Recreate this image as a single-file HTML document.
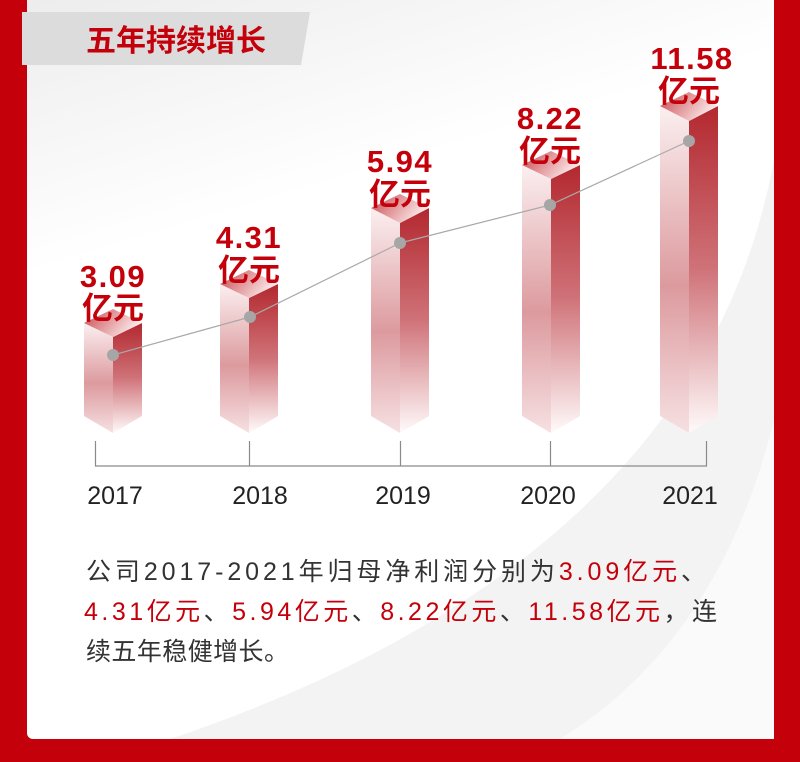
<!DOCTYPE html>
<html><head><meta charset="utf-8"><style>
html,body{margin:0;padding:0;width:800px;height:762px;overflow:hidden;background:#c4000b}
svg{display:block}
text{font-family:"Liberation Sans","Noto Sans CJK SC",sans-serif}
</style></head><body>
<svg width="800" height="762" viewBox="0 0 800 762" xmlns="http://www.w3.org/2000/svg">
<defs>
<linearGradient id="bg" x1="0" y1="0" x2="0.3" y2="1">
<stop offset="0" stop-color="#ececec"/><stop offset="0.35" stop-color="#ffffff"/><stop offset="1" stop-color="#ffffff"/>
</linearGradient>
<linearGradient id="lf" x1="0" y1="0" x2="0" y2="1">
<stop offset="0" stop-color="#fbeff0"/><stop offset="0.55" stop-color="#dc9a9e"/><stop offset="1" stop-color="#f6e0e2"/>
</linearGradient>
<linearGradient id="rf" x1="0" y1="0" x2="0" y2="1">
<stop offset="0" stop-color="#b3282f"/><stop offset="0.5" stop-color="#cf7379"/><stop offset="1" stop-color="#fffafa"/>
</linearGradient>
<linearGradient id="tp" x1="0" y1="0" x2="1" y2="0.4">
<stop offset="0" stop-color="#c8464c"/><stop offset="1" stop-color="#fbe9ea"/>
</linearGradient>
</defs>
<rect x="27" y="-10" width="747" height="749" rx="6" fill="url(#bg)"/>
<path d="M774 160 Q700 560 170 739 L774 739 Z" fill="#f3f3f3"/>
<path d="M774 420 Q720 640 560 739 L774 739 Z" fill="#fafafa"/>
<rect x="0" y="0" width="27" height="762" fill="#c4000b"/>
<rect x="774" y="0" width="26" height="762" fill="#c4000b"/>
<rect x="0" y="739" width="800" height="23" fill="#c4000b"/>
<polygon points="22,12 310,12 301,65 22,65" fill="#dcdcdc"/>
<text x="176" y="51" text-anchor="middle" font-size="30" font-weight="bold" fill="#c4000b" textLength="180">五年持续增长</text>

<g>
<polygon points="84,323 113,337 113,433 84,416" fill="url(#lf)"/>
<polygon points="113,337 142,323 142,416 113,433" fill="url(#rf)"/>
<polygon points="84,323 113,309 142,323 113,337" fill="url(#tp)"/>
<polygon points="220,284 249,298 249,433 220,416" fill="url(#lf)"/>
<polygon points="249,298 278,284 278,416 249,433" fill="url(#rf)"/>
<polygon points="220,284 249,270 278,284 249,298" fill="url(#tp)"/>
<polygon points="371,208 400,223 400,433 371,416" fill="url(#lf)"/>
<polygon points="400,223 429,208 429,416 400,433" fill="url(#rf)"/>
<polygon points="371,208 400,194 429,208 400,223" fill="url(#tp)"/>
<polygon points="522,165 551,179 551,433 522,416" fill="url(#lf)"/>
<polygon points="551,179 580,165 580,416 551,433" fill="url(#rf)"/>
<polygon points="522,165 551,151 580,165 551,179" fill="url(#tp)"/>
<polygon points="660,106 689,121 689,433 660,416" fill="url(#lf)"/>
<polygon points="689,121 718,106 718,416 689,433" fill="url(#rf)"/>
<polygon points="660,106 689,92 718,106 689,121" fill="url(#tp)"/>
</g>

<polyline points="113,355 250,317 400,243 550,205 689,141" fill="none" stroke="#a9a9a9" stroke-width="1.2"/>
<g fill="#a6a6a6">
<circle cx="113" cy="355" r="6"/><circle cx="250" cy="317" r="6"/><circle cx="400" cy="243" r="6"/><circle cx="550" cy="205" r="6"/><circle cx="689" cy="141" r="6"/>
</g>

<g font-weight="bold" fill="#c4000b" font-size="31" text-anchor="middle">
<text x="113" y="287" letter-spacing="1.5">3.09</text><text x="113" y="319">亿元</text>
<text x="249" y="248" letter-spacing="1.5">4.31</text><text x="249" y="281">亿元</text>
<text x="400" y="172" letter-spacing="1.5">5.94</text><text x="400" y="205">亿元</text>
<text x="550" y="129" letter-spacing="1.5">8.22</text><text x="550" y="162">亿元</text>
<text x="692" y="69" letter-spacing="1.5">11.58</text><text x="689" y="102">亿元</text>
</g>

<g stroke="#8a8a8a" stroke-width="1.2" fill="none">
<path d="M95.5 441 V466 H706.5 V441 M249.5 441 V466 M400.5 441 V466 M550.5 441 V466"/>
</g>
<g font-size="25" fill="#222" text-anchor="middle">
<text x="115" y="504">2017</text><text x="260" y="504">2018</text><text x="403" y="504">2019</text><text x="548" y="504">2020</text><text x="690" y="504">2021</text>
</g>

<g font-size="25" fill="#333">
<text x="86" y="580" textLength="620" lengthAdjust="spacing">公司2017-2021年归母净利润分别为<tspan fill="#c4000b">3.09亿元</tspan>、</text>
<text x="84" y="620" textLength="633" lengthAdjust="spacing"><tspan fill="#c4000b">4.31亿元</tspan>、<tspan fill="#c4000b">5.94亿元</tspan>、<tspan fill="#c4000b">8.22亿元</tspan>、<tspan fill="#c4000b">11.58亿元</tspan>，连</text>
<text x="86" y="660" textLength="203" lengthAdjust="spacing">续五年稳健增长。</text>
</g>
</svg>
</body></html>
